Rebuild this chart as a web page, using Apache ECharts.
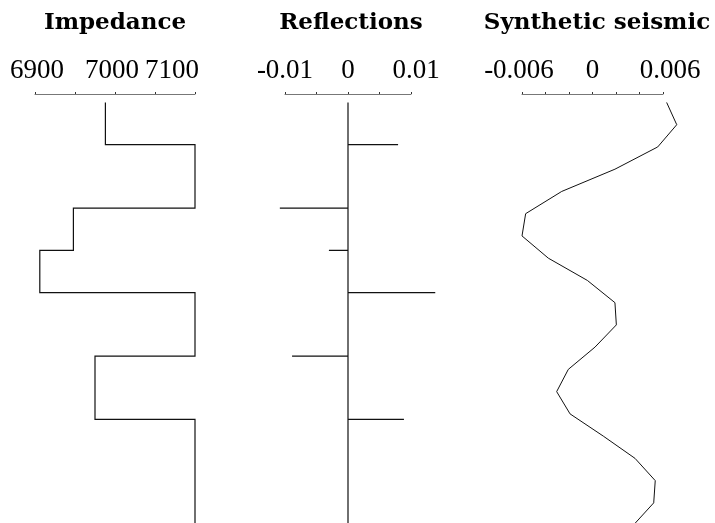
<!DOCTYPE html>
<html>
<head>
<meta charset="utf-8">
<script src="https://cdn.jsdelivr.net/npm/echarts@6/dist/echarts.min.js"></script>
<style>html,body{margin:0;padding:0;background:#fff}#c{width:715px;height:523px}</style>
</head>
<body>
<div id="c"></div>
<script>
// ---- data ----
const panelTitles = ['Impedance', 'Reflections', 'Synthetic seismic'];
// impedance layers: top depth (samples) and impedance value
const layerTops = [0, 2, 5, 7, 9, 12, 15];
const layerBottomEnd = 20;
const impedance = [6988, 7100, 6948, 6906, 7100, 6975, 7100];
// reflection coefficients at interfaces
const reflDepths = [2, 5, 7, 9, 12, 15];
const reflValues = [0.00795, -0.01082, -0.00303, 0.01385, -0.00888, 0.00888];
// synthetic seismic trace
const seisDepths = [0, 1.053, 2.105, 3.158, 4.211, 5.263, 6.316, 7.368, 8.421, 9.474,
  10.526, 11.579, 12.632, 13.684, 14.737, 15.789, 16.842, 17.895, 18.947, 20];
const seisValues = [0.00631, 0.00717, 0.00555, 0.00191, -0.00262, -0.00569, -0.00600, -0.00376, -0.00044, 0.00191,
  0.00203, 0.00021, -0.00206, -0.00305, -0.00191, 0.00092, 0.00362, 0.00534, 0.00521, 0.00348];
// axis tick labels
const impTicks = [6900, 7000, 7100];
const reflTicks = [-0.01, 0, 0.01];
const seisTicks = [-0.006, 0, 0.006];

// ---- build polylines from data ----
const impPts = [];
for (let i = 0; i < impedance.length; i++) {
  const top = layerTops[i];
  const bot = i + 1 < layerTops.length ? layerTops[i + 1] : layerBottomEnd;
  impPts.push([impedance[i], top]);
  impPts.push([impedance[i], bot]);
}
const reflPts = [[0, 0]];
for (let i = 0; i < reflDepths.length; i++) {
  reflPts.push([0, reflDepths[i]]);
  reflPts.push([reflValues[i], reflDepths[i]]);
  reflPts.push([0, reflDepths[i]]);
}
reflPts.push([0, layerBottomEnd]);
const seisPts = seisDepths.map((d, i) => [seisValues[i], d]);

const chart = echarts.init(document.getElementById('c'), null, {renderer: 'canvas'});
const labelFont = {fontFamily: 'Liberation Serif', fontSize: 27, color: '#000'};
function close(a, b) { return Math.abs(a - b) < 1e-9; }
// style key per tick label (small horizontal nudges like the reference)
function xAx(idx, min, max, interval, ticks, styles, rich) {
  return {
    type: 'value', gridIndex: idx, position: 'top', min, max, interval,
    splitLine: {show: false},
    axisLine: {show: true, onZero: false, lineStyle: {color: '#777', width: 1}},
    axisTick: {show: true, length: 2, lineStyle: {color: '#333'}},
    axisLabel: Object.assign({
      margin: 10,
      showMinLabel: true, showMaxLabel: true,
      formatter: v => {
        const k = ticks.findIndex(t => close(t, v));
        if (k < 0) return '';
        return '{' + styles[k] + '|' + ticks[k] + '}';
      },
      rich: rich
    }, labelFont)
  };
}
function yAx(idx) {
  return {type: 'value', gridIndex: idx, inverse: true, min: -0.4, max: 19.9, show: false};
}
const baseRich = Object.assign({}, labelFont);
const richSet = {
  n: Object.assign({}, baseRich),
  r5: Object.assign({}, baseRich, {padding: [0, 0, 0, 10]}),
  r8: Object.assign({}, baseRich, {padding: [0, 0, 0, 14]}),
  l3: Object.assign({}, baseRich, {padding: [0, 6, 0, 0]}),
  l23: Object.assign({}, baseRich, {padding: [0, 46, 0, 0]}),
  s4: Object.assign({}, baseRich, {padding: [0, 0, 0, 4]})
};
const grids = [
  {left: 35, width: 160, top: 94, bottom: 0},
  {left: 285, width: 126, top: 94, bottom: 0},
  {left: 522, width: 141, top: 94, bottom: 0}
];
const titleX = [115, 351, 597];
function polySeries(idx, pts, width) {
  return {
    type: 'lines', coordinateSystem: 'cartesian2d', xAxisIndex: idx, yAxisIndex: idx,
    polyline: true, clip: false, silent: true, animation: false,
    lineStyle: {color: '#111', width: width, opacity: 1},
    data: [{coords: pts}]
  };
}
chart.setOption({
  animation: false,
  grid: grids,
  xAxis: [
    xAx(0, 6900, 7100, 50, impTicks, ['s4', 'l3', 'l23'], richSet),
    xAx(1, -0.01, 0.01, 0.005, reflTicks, ['n', 'n', 'r5'], richSet),
    xAx(2, -0.006, 0.006, 0.002, seisTicks, ['l3', 'n', 'r8'], richSet)
  ],
  yAxis: [yAx(0), yAx(1), yAx(2)],
  graphic: panelTitles.map((t, i) => ({
    type: 'text', x: titleX[i], y: 23,
    style: {text: t, fontFamily: 'DejaVu Serif', fontWeight: 'bold', fontSize: 23,
      fill: '#000', align: 'center', verticalAlign: 'middle'}
  })),
  series: [
    polySeries(0, impPts, 1.2),
    polySeries(1, reflPts, 1.2),
    polySeries(2, seisPts, 1)
  ]
});
</script>
</body>
</html>
